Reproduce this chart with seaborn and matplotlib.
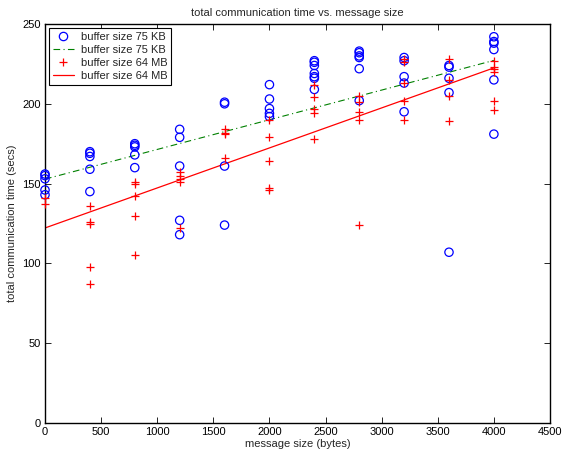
import matplotlib
matplotlib.use("Agg")
import matplotlib.pyplot as plt
from matplotlib.lines import Line2D
import seaborn as sns
import pandas as pd

# ---- data ----
kb_x = [0]*5 + [400]*5 + [800]*5 + [1200]*5 + [1600]*4 + [2000]*5 + [2400]*7 + [2800]*6 + [3200]*5 + [3600]*5 + [4000]*6
kb_y = [156, 155, 153, 146, 143,
        170, 169, 167, 159, 145,
        175, 174, 173, 168, 160,
        184, 179, 161, 127, 118,
        201, 200, 161, 124,
        212, 203, 197, 194, 192,
        227, 226, 224, 219, 217, 216, 209,
        233, 232, 230, 229, 222, 202,
        229, 227, 217, 213, 195,
        224, 223, 216, 207, 107,
        242, 239, 238, 234, 215, 181]

mb_x = [0]*2 + [400]*5 + [800]*5 + [1200]*5 + [1600]*4 + [2000]*5 + [2400]*5 + [2800]*5 + [3200]*5 + [3600]*4 + [4000]*6
mb_y = [141, 137,
        136, 126, 125, 98, 87,
        151, 150, 142, 130, 105,
        157, 155, 153, 151, 122,
        184, 182, 181, 166,
        190, 179, 164, 147, 146,
        212, 204, 197, 194, 178,
        205, 201, 195, 190, 124,
        228, 226, 213, 202, 190,
        228, 215, 205, 189,
        227, 223, 222, 220, 202, 196]

fit_x = [0, 4000]
fit_kb = [152.8, 227.2]
fit_mb = [122.2, 222.5]

x_ticks = [0, 500, 1000, 1500, 2000, 2500, 3000, 3500, 4000, 4500]
y_ticks = [0, 50, 100, 150, 200, 250]

labels = ["buffer size 75 KB", "buffer size 75 KB", "buffer size 64 MB", "buffer size 64 MB"]

# ---- style ----
sns.set_theme(style="white")
plt.rcParams['font.family'] = ['Liberation Sans', 'DejaVu Sans']
plt.rcParams['xtick.direction'] = 'in'
plt.rcParams['ytick.direction'] = 'in'

fig = plt.figure(figsize=(5.62, 4.53), dpi=100)
ax = fig.add_axes([45/562, 1-423/453, (550-45)/562, (423-24)/453])

df_kb = pd.DataFrame({"x": kb_x, "y": kb_y})
df_mb = pd.DataFrame({"x": mb_x, "y": mb_y})
df_fkb = pd.DataFrame({"x": fit_x, "y": fit_kb})
df_fmb = pd.DataFrame({"x": fit_x, "y": fit_mb})

sns.scatterplot(data=df_kb, x="x", y="y", ax=ax, marker="o", s=36,
                facecolors="none", edgecolor="#0000ff", linewidth=0.9, zorder=3,
                clip_on=False)
sns.lineplot(data=df_fkb, x="x", y="y", ax=ax, color="#008000", linewidth=0.8,
             dashes=False, zorder=2)
ax.lines[-1].set_dashes([6, 3, 1, 3])
sns.scatterplot(data=df_mb, x="x", y="y", ax=ax, marker="+", s=38,
                color="#ff0000", linewidth=0.9, zorder=3, clip_on=False)
sns.lineplot(data=df_fmb, x="x", y="y", ax=ax, color="#ff0000", linewidth=0.9, zorder=2)

ax.set_xlim(0, 4500)
ax.set_ylim(0, 250)
ax.set_xticks(x_ticks)
ax.set_yticks(y_ticks)
ax.set_xticklabels([str(t) for t in x_ticks])
ax.set_yticklabels([str(t) for t in y_ticks])
ax.tick_params(axis='both', labelsize=8, length=4, width=0.6, colors='black',
               top=True, right=True, bottom=True, left=True, pad=3)
for s in ax.spines.values():
    s.set_visible(True)
    s.set_color("black")
    s.set_linewidth(1.0)
ax.grid(False)

ax.set_xlabel("message size (bytes)", fontsize=8, labelpad=1)
ax.set_ylabel("total communication time (secs)", fontsize=8, labelpad=4)
ax.set_title("total communication time vs. message size", fontsize=8, pad=6)

h1 = Line2D([], [], linestyle="none", marker="o", markersize=6, markerfacecolor="none",
            markeredgecolor="#0000ff", markeredgewidth=0.9)
h2 = Line2D([], [], color="#008000", linewidth=0.8, dashes=[6, 3, 1, 3])
h3 = Line2D([], [], linestyle="none", marker="+", markersize=6, color="#ff0000",
            markeredgewidth=0.9)
h4 = Line2D([], [], color="#ff0000", linewidth=0.9)
leg = ax.legend([h1, h2, h3, h4], labels, loc="upper left", fontsize=8,
                frameon=True, fancybox=False, framealpha=1, edgecolor="black",
                borderpad=0.35, labelspacing=0.27, handlelength=1.9, handletextpad=0.6,
                borderaxespad=0.35)
leg.get_frame().set_linewidth(0.8)
leg.set_zorder(5)

fig.savefig("out.png", dpi=100)
